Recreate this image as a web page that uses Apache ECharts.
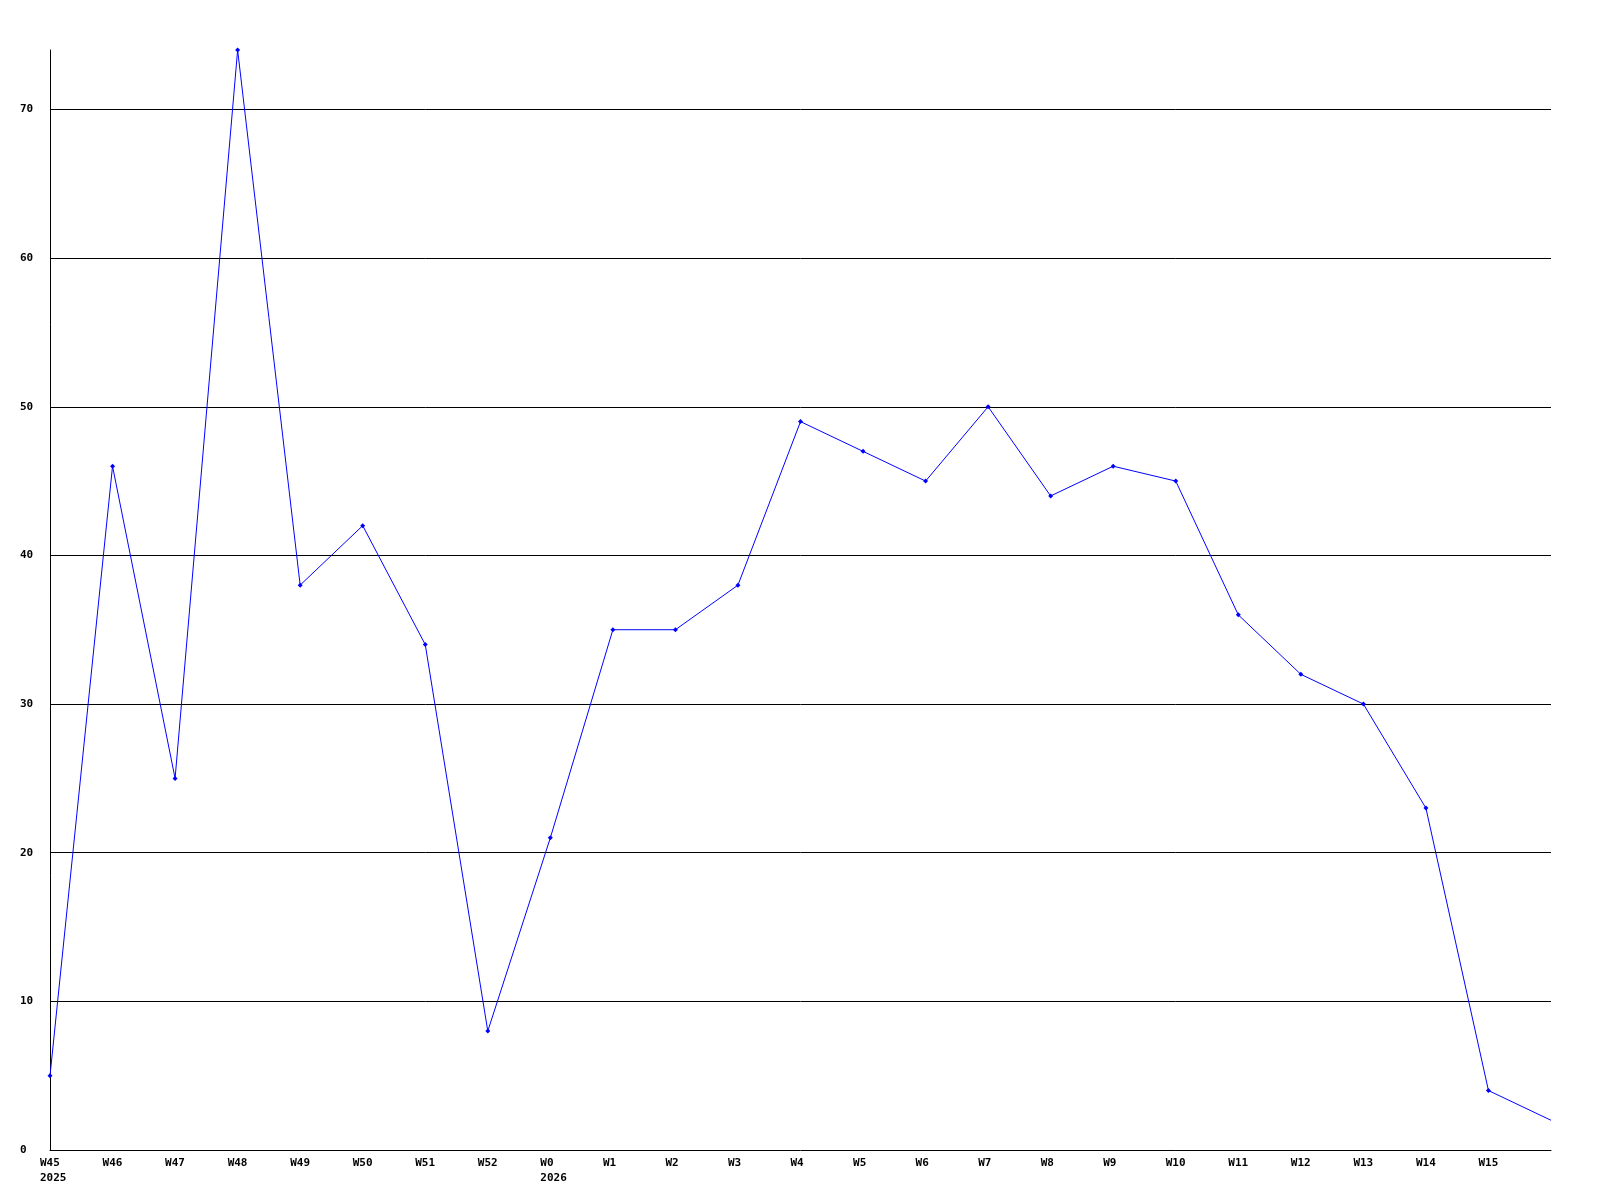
<!DOCTYPE html>
<html><head><meta charset="utf-8">
<script src="https://cdn.jsdelivr.net/npm/echarts@6/dist/echarts.min.js"></script>
<style>html,body{margin:0;padding:0;background:#fff}#c{width:1600px;height:1200px}</style>
</head><body><div id="c"></div>
<script>
var categories = ['W45\n2025','W46','W47','W48','W49','W50','W51','W52','W0\n2026','W1','W2','W3','W4','W5','W6','W7','W8','W9','W10','W11','W12','W13','W14','W15',''];
var values = [5,46,25,74,38,42,34,8,21,35,35,38,49,47,45,50,44,46,45,36,32,30,23,4,2];
var yTicks = {min:0, max:74, interval:10};

var seriesData = values.map(function (v, i) {
  return i === values.length - 1 ? {value: v, symbol: 'none'} : v;
});

var chart = echarts.init(document.getElementById('c'), null, {renderer:'canvas'});
var font = {fontFamily:'DejaVu Sans Mono', fontSize:11, fontWeight:'bold', color:'#000'};
chart.setOption({
  animation:false,
  backgroundColor:'#fff',
  grid:{left:50, right:49, top:50, bottom:50, containLabel:false},
  xAxis:{
    type:'category', data:categories, boundaryGap:false,
    axisLine:{show:true, onZero:false, lineStyle:{color:'#000', width:1}},
    axisTick:{show:false},
    splitLine:{show:false},
    axisLabel:Object.assign({interval:0, margin:6, lineHeight:15, align:'left', padding:[0,0,0,-10]}, font)
  },
  yAxis:{
    type:'value', min:yTicks.min, max:yTicks.max, interval:yTicks.interval,
    axisLine:{show:true, lineStyle:{color:'#000', width:1}},
    axisTick:{show:false},
    splitLine:{show:true, showMinLine:false, showMaxLine:false, lineStyle:{color:'#000', width:1}},
    axisLabel:Object.assign({margin:30, align:'left', showMaxLabel:false}, font)
  },
  series:[{
    type:'line', data:seriesData,
    symbol:'diamond', symbolSize:5, showAllSymbol:true,
    lineStyle:{color:'#0000ff', width:1},
    itemStyle:{color:'#0000ff'},
    emphasis:{disabled:true}
  }]
});
</script></body></html>
